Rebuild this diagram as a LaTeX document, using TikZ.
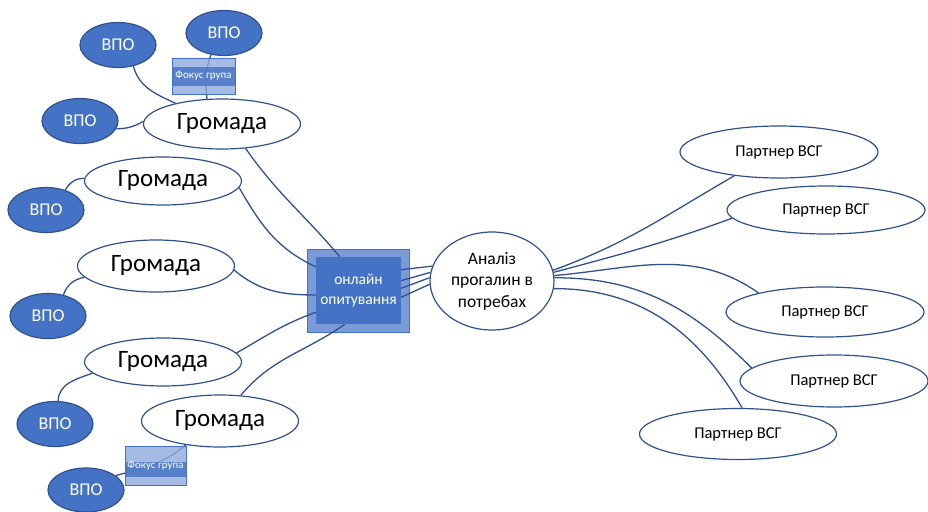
\documentclass[tikz,border=0pt]{standalone}
\usepackage{fontspec}
\setmainfont{Carlito}
\usetikzlibrary{shapes.geometric,calc}
\definecolor{vblue}{HTML}{4472C4}
\definecolor{vdark}{HTML}{2F528F}
\definecolor{vlight}{HTML}{8FAADC}
\definecolor{vmid}{HTML}{7A9AD8}
\pgfdeclarelayer{bgbox}
\pgfdeclarelayer{bglines}
\pgfsetlayers{bgbox,bglines,main}
\tikzset{
 vpo/.style={ellipse, draw=vdark, line width=1.2pt, fill=vblue, text=white, minimum width=76pt, minimum height=45pt, inner sep=0pt, font=\fontsize{18}{20}\selectfont},
 hrom/.style={ellipse, draw=vdark, line width=1.2pt, fill=white, minimum width=157pt, minimum height=50pt, inner sep=0pt, font=\fontsize{25}{28}\selectfont},
 partner/.style={ellipse, draw=vdark, line width=1.2pt, fill=white, inner sep=0pt, font=\fontsize{16.5}{19}\selectfont},
 fgbox/.style={rectangle, draw=vblue, line width=0.8pt, fill=vlight, fill opacity=0.8, text opacity=1, text=white, inner sep=0pt, font=\fontsize{11}{12}\selectfont},
 link/.style={draw=vdark, line width=1.3pt},
}
\begin{document}
\begin{tikzpicture}[x=1pt,y=1pt]
\useasboundingbox (0,0) rectangle (928,-511);
% top-left cluster
\node[vpo] (v1) at (118,-45) {ВПО};
\node[vpo] (v2) at (224,-33) {ВПО};
\node[fgbox, minimum width=63pt, minimum height=36pt,
  path picture={\fill[vblue, fill opacity=0.8] ($(path picture bounding box.north west)+(0,-9pt)$) rectangle ($(path picture bounding box.south east)+(0,8pt)$);}] (fg1) at (203.5,-76) {Фокус група};
\node[vpo] (v3) at (80,-121) {ВПО};
\node[hrom] (g1) at (222,-124) {Громада};
\node[hrom, minimum height=48pt] (g2) at (163,-181) {Громада};
\node[vpo] (v4) at (46,-210) {ВПО};
\node[hrom, minimum height=52pt] (g3) at (156,-266) {Громада};
\node[vpo] (v5) at (48,-316) {ВПО};
\node[hrom, minimum height=48pt] (g4) at (163,-362) {Громада};
\node[vpo] (v6) at (55,-424) {ВПО};
\node[hrom, minimum height=52pt] (g5) at (220,-421) {Громада};
\node[fgbox, minimum width=61pt, minimum height=39pt,
  path picture={\fill[vblue, fill opacity=0.8] ($(path picture bounding box.north west)+(0,-15pt)$) rectangle ($(path picture bounding box.south east)+(0,9pt)$);}] (fg2) at (155.5,-466) {Фокус група};
\node[vpo, minimum height=44pt] (v7) at (86,-490) {ВПО};
% centre
\begin{pgfonlayer}{bgbox}
\node[rectangle, draw=vblue, line width=1pt, fill=vmid, minimum width=102pt, minimum height=83pt] (cout) at (358,-290.5) {};
\end{pgfonlayer}
\node[rectangle, fill=vblue, minimum width=85pt, minimum height=67pt, inner sep=0pt, text=white, align=center, font=\fontsize{15.5}{20}\selectfont] (cin) at (358.5,-290.5) {онлайн\\опитування};
\node[ellipse, draw=vdark, line width=1.2pt, fill=white, minimum width=124pt, minimum height=98pt, inner sep=0pt, align=center, font=\fontsize{17.5}{21.5}\selectfont] (a) at (492,-281) {Аналіз\\прогалин в\\потребах};
% partners
\node[partner, minimum width=198pt, minimum height=52pt] (p1) at (779,-152) {Партнер ВСГ};
\node[partner, minimum width=198pt, minimum height=48pt] (p2) at (826,-210) {Партнер ВСГ};
\node[partner, minimum width=198pt, minimum height=50pt] (p3) at (825,-312) {Партнер ВСГ};
\node[partner, minimum width=188pt, minimum height=52pt] (p4) at (834,-381) {Партнер ВСГ};
\node[partner, minimum width=197pt, minimum height=51pt] (p5) at (738,-434) {Партнер ВСГ};
% connectors
\begin{pgfonlayer}{bglines}
\draw[link] (v1.306) to[out=-75,in=155] (g1.156);
\draw[link] (v2.239) to[out=-110,in=95] (g1.121);
\draw[link] (v3.348) to[out=0,in=210] (g1.178);
\draw[link] (v4.46) to[out=60,in=180] (g2.178);
\draw[link] (v5.54) to[out=70,in=190] (g3.189);
\draw[link] (v6.82) to[out=90,in=200] (g4.189);
\draw[link] (g5.215) to[out=220,in=15] (v7.26);
\draw[link] (g1.314) to[out=-55,in=130] (cin.119);
\draw[link] (g2.355) to[out=-60,in=155] (cin.151);
\draw[link] (g3.357) to[out=-40,in=180] (cin.186);
\draw[link] (g4.7) to[out=30,in=200] (cin.207);
\draw[link] (g5.51) to[out=50,in=215] (cin.248);
\draw[link] (cin.26) -- (a.166);
\draw[link] (cin.13) -- (a.172);
\draw[link] (cin.3) -- (a.177);
\draw[link] (cin.-9) -- (a.183);
\draw[link] (a.10) to[out=20,in=210] (p1.208);
\draw[link] (a.8) to[out=15,in=200] (p2.185);
\draw[link] (a.5) to[out=5,in=145] (p3.164);
\draw[link] (a.3) to[out=0,in=135] (p4.171);
\draw[link] (a.-7) to[out=0,in=120] (p5.81);
\end{pgfonlayer}
\end{tikzpicture}
\end{document}
